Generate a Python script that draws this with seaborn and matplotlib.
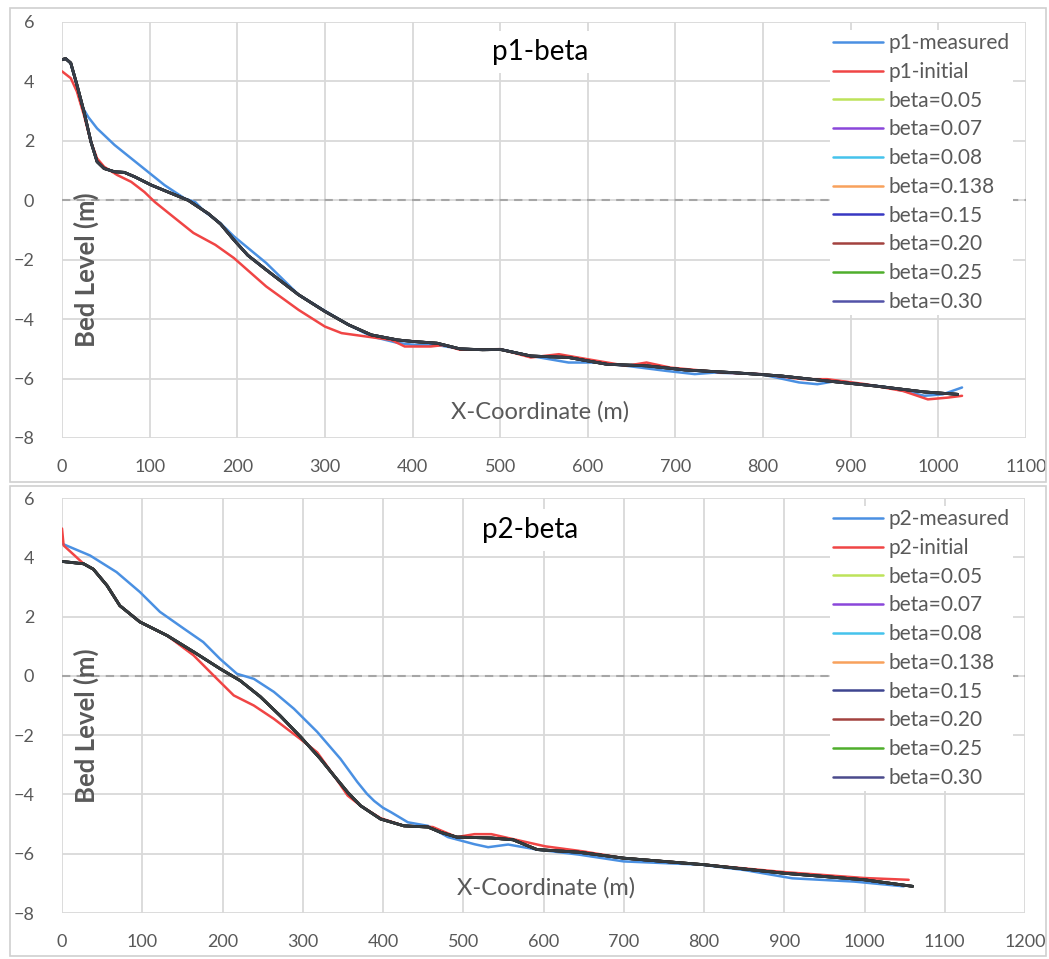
import numpy as np
import pandas as pd
import matplotlib
matplotlib.use("Agg")
import matplotlib.pyplot as plt
import matplotlib.patches as mpatches
import matplotlib.patheffects as pe
from matplotlib.lines import Line2D
import seaborn as sns

# ---------------- data ----------------
beta_labels = ["beta=0.05", "beta=0.07", "beta=0.08", "beta=0.138",
               "beta=0.15", "beta=0.20", "beta=0.25", "beta=0.30"]

# Profile p1
p1_meas_x = [0, 5, 10, 16, 22, 30, 40, 60, 79, 98, 117, 140, 152, 163, 180, 196, 233, 270, 300, 327,
             353, 383, 400, 428, 454, 480, 500, 535, 578, 611, 644, 689, 722, 744, 797, 841, 862, 884,
             944, 984, 1005, 1027]
p1_meas_y = [4.73, 4.76, 4.6, 3.95, 3.2, 2.8, 2.42, 1.86, 1.41, 0.96, 0.51, 0.06, -0.06, -0.39, -0.75,
             -1.21, -2.11, -3.18, -3.72, -4.19, -4.58, -4.8, -4.86, -4.87, -5.0, -5.03, -5.01, -5.24,
             -5.46, -5.46, -5.57, -5.74, -5.85, -5.8, -5.85, -6.13, -6.19, -6.08, -6.3, -6.58, -6.53, -6.3]

p1_init_x = [0, 10, 17, 25, 33, 40, 48, 63, 79, 94, 106, 125, 150, 175, 196, 233, 270, 300, 319, 346,
             376, 391, 421, 436, 454, 500, 535, 567, 600, 644, 667, 694, 755, 797, 846, 873, 917, 960,
             988, 1011, 1027]
p1_init_y = [4.34, 4.11, 3.66, 2.87, 1.97, 1.41, 1.13, 0.85, 0.62, 0.28, -0.06, -0.51, -1.1, -1.5,
             -1.94, -2.9, -3.69, -4.25, -4.47, -4.58, -4.7, -4.92, -4.92, -4.87, -5.03, -5.01, -5.29,
             -5.18, -5.35, -5.57, -5.46, -5.63, -5.8, -5.85, -6.02, -6.02, -6.19, -6.42, -6.7, -6.64,
             -6.58]

p1_sim_x = [0, 4, 10, 17, 25, 33, 40, 48, 60, 71, 83, 102, 125, 144, 167, 181, 196, 212, 233, 270,
            300, 327, 353, 383, 400, 428, 454, 480, 500, 535, 578, 622, 667, 711, 766, 820, 873, 928,
            984, 1022]
p1_sim_y = [4.73, 4.77, 4.62, 3.89, 2.99, 1.97, 1.3, 1.07, 0.96, 0.94, 0.79, 0.51, 0.23, 0.0, -0.45,
            -0.8, -1.33, -1.85, -2.34, -3.18, -3.74, -4.19, -4.53, -4.7, -4.75, -4.81, -5.0, -5.03,
            -5.02, -5.24, -5.29, -5.52, -5.57, -5.71, -5.8, -5.91, -6.08, -6.25, -6.45, -6.53]

# Profile p2
p2_meas_x = [0, 35, 68, 97, 122, 152, 176, 197, 218, 239, 264, 289, 318, 347, 368, 380, 389, 400, 410,
             431, 456, 481, 514, 531, 556, 592, 644, 700, 797, 850, 910, 987, 1049]
p2_meas_y = [4.46, 4.06, 3.5, 2.83, 2.16, 1.59, 1.14, 0.57, 0.07, -0.1, -0.54, -1.11, -1.89, -2.8,
             -3.58, -3.98, -4.22, -4.45, -4.6, -4.94, -5.06, -5.44, -5.68, -5.78, -5.69, -5.86, -6.03,
             -6.26, -6.37, -6.55, -6.83, -6.94, -7.1]

p2_init_x = [0, 2, 27, 39, 56, 72, 97, 131, 164, 189, 214, 239, 264, 297, 318, 339, 356, 372, 397,
             426, 462, 492, 514, 535, 556, 602, 649, 700, 800, 900, 1000, 1055]
p2_init_y = [4.97, 4.4, 3.78, 3.6, 3.05, 2.37, 1.82, 1.36, 0.69, 0.01, -0.66, -1.0, -1.45, -2.13,
             -2.58, -3.37, -4.04, -4.38, -4.8, -5.06, -5.1, -5.44, -5.34, -5.34, -5.47, -5.75, -5.92,
             -6.15, -6.37, -6.62, -6.82, -6.88]

p2_sim_x = [0, 27, 39, 56, 72, 97, 131, 164, 197, 222, 247, 272, 297, 322, 339, 356, 372, 397, 426,
            456, 472, 492, 535, 562, 592, 644, 700, 800, 900, 1000, 1060]
p2_sim_y = [3.86, 3.78, 3.6, 3.05, 2.37, 1.82, 1.36, 0.81, 0.24, -0.16, -0.7, -1.35, -2.05, -2.8,
            -3.37, -3.93, -4.38, -4.83, -5.06, -5.1, -5.28, -5.44, -5.47, -5.53, -5.86, -5.95, -6.15,
            -6.37, -6.66, -6.88, -7.1]

x_ticks_p1 = list(range(0, 1101, 100))
x_ticks_p2 = list(range(0, 1201, 100))
y_ticks = [-8, -6, -4, -2, 0, 2, 4, 6]

# ---------------- style ----------------
sns.set_theme(style="white")
plt.rcParams['font.family'] = ['Lato', 'DejaVu Sans']

meas_color = "#4A90E2"
init_color = "#F04545"
beta_colors_p1 = ["#BDE35A", "#8A47DA", "#45C3EC", "#F8A15C", "#3838C2", "#A3423F", "#4FAE2C", "#5353A8"]
beta_colors_p2 = ["#BDE35A", "#8A47DA", "#45C3EC", "#F8A15C", "#3E4590", "#A3423F", "#4FAE2C", "#4A4A8C"]
text_gray = "#595959"
grid_gray = "#D9D9D9"

W, H = 1049, 959
fig = plt.figure(figsize=(W / 100, H / 100), dpi=100)

def fx(px):
    return px / W

def fy(py):
    return 1 - py / H

# panel frames
for (l, t, r, b) in [(10, 8, 1046, 482), (10, 486, 1046, 956)]:
    fig.patches.append(mpatches.Rectangle((fx(l), fy(b)), fx(r) - fx(l), fy(t) - fy(b),
                                          transform=fig.transFigure, fill=False,
                                          edgecolor="#D0D0D0", lw=1.2))

def make_panel(rect_px, name, mx, my, ix, iy, sx, sy, colors, xticks, title_xy, ylab_y, xlab_xy, leg_xy):
    l, t, r, b = rect_px
    ax = fig.add_axes([fx(l), fy(b), fx(r) - fx(l), fy(t) - fy(b)])
    ax.set_xlim(xticks[0], xticks[-1])
    ax.set_ylim(-8, 6)
    ax.set_xticks(xticks)
    ax.set_yticks(y_ticks)
    ax.grid(True, color=grid_gray, lw=1.3)
    ax.set_axisbelow(True)
    for s in ax.spines.values():
        s.set_visible(False)
    ax.tick_params(length=0, labelsize=13, labelcolor=text_gray)
    ax.tick_params(axis="x", pad=15)
    ax.tick_params(axis="y", pad=20)
    ax.axhline(0, xmin=0, xmax=1, color="#A6A6A6", lw=1.5, ls=(0, (4, 3)), zorder=1)

    handles = []
    sns.lineplot(x=mx, y=my, ax=ax, color=meas_color, lw=1.8, sort=False, zorder=3)
    handles.append(Line2D([], [], color=meas_color, lw=1.8))
    sns.lineplot(x=ix, y=iy, ax=ax, color=init_color, lw=1.8, sort=False, zorder=3)
    handles.append(Line2D([], [], color=init_color, lw=1.8))
    for c in colors:
        sns.lineplot(x=sx, y=sy, ax=ax, color=c, lw=1.8, alpha=0.3, sort=False, zorder=4)
        ax.lines[-1].set_path_effects([pe.Stroke(linewidth=2.0, foreground="#111111", alpha=0.4),
                                       pe.Normal()])
        handles.append(Line2D([], [], color=c, lw=1.8))
    labels = [f"{name}-measured", f"{name}-initial"] + beta_labels
    ax.set_xlabel("")
    ax.set_ylabel("")

    # title with white box
    fig.text(fx(title_xy[0]), fy(title_xy[1]), f"{name}-beta", ha="center", va="center",
             fontsize=20, color="black",
             bbox=dict(facecolor="white", edgecolor="none", pad=6), zorder=10)
    # y label inside
    fig.text(fx(86), fy(ylab_y), "Bed Level (m)", rotation=90, ha="center", va="center",
             fontsize=18.5, color=text_gray, fontweight="bold")
    # x label inside
    fig.text(fx(xlab_xy[0]), fy(xlab_xy[1]), "X-Coordinate (m)", ha="center", va="center",
             fontsize=17, color=text_gray)

    leg = ax.legend(handles, labels, loc="upper left",
                    bbox_to_anchor=(fx(leg_xy[0]), fy(leg_xy[1])),
                    bbox_transform=fig.transFigure, frameon=True, fontsize=15,
                    handlelength=2.4, handletextpad=0.25, labelspacing=0.42,
                    borderpad=0.15, borderaxespad=0)
    leg.get_frame().set_facecolor("white")
    leg.get_frame().set_edgecolor("none")
    leg.get_frame().set_alpha(1)
    for txt in leg.get_texts():
        txt.set_color(text_gray)
    return ax

make_panel((62, 22, 1026, 438), "p1", p1_meas_x, p1_meas_y, p1_init_x, p1_init_y,
           p1_sim_x, p1_sim_y, beta_colors_p1, x_ticks_p1,
           title_xy=(540, 52), ylab_y=270, xlab_xy=(540, 412), leg_xy=(830, 30))
make_panel((62, 498, 1025, 913), "p2", p2_meas_x, p2_meas_y, p2_init_x, p2_init_y,
           p2_sim_x, p2_sim_y, beta_colors_p2, x_ticks_p2,
           title_xy=(530, 530), ylab_y=726, xlab_xy=(546, 888), leg_xy=(830, 506))

fig.savefig("out.png", dpi=100)
